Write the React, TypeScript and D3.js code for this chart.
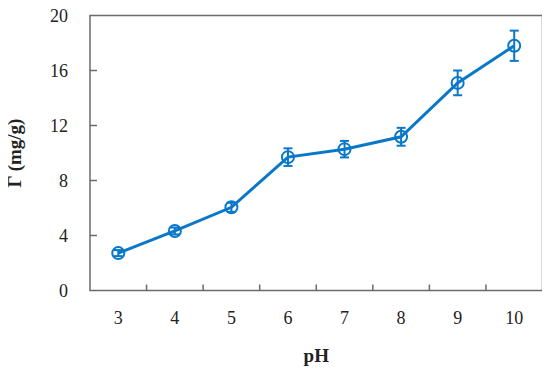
import React, { useEffect, useRef } from 'react';
import * as d3 from 'd3';

// adsorption vs pH
const phLabels = ['3', '4', '5', '6', '7', '8', '9', '10'];
const gammaValues = [2.72, 4.33, 6.05, 9.7, 10.28, 11.18, 15.1, 17.8];
const gammaErrors = [0.22, 0.25, 0.33, 0.64, 0.6, 0.65, 0.9, 1.1];
const yTicks = [0, 4, 8, 12, 16, 20];

const W = 550;
const H = 374;
const margin = { top: 15.5, right: 7.5, bottom: 83.5, left: 90 };
const blue = '#0a78c8';
const axisGrey = '#6b6b6b';
const font = '"Liberation Serif", "DejaVu Serif", serif';

export default function App() {
  const ref = useRef<SVGSVGElement>(null);

  useEffect(() => {
    const svg = d3.select(ref.current);
    svg.selectAll('*').remove();

    const x0 = margin.left;
    const x1 = W - margin.right;
    const y0 = H - margin.bottom;
    const y1 = margin.top;

    const x = d3.scaleBand().domain(phLabels).range([x0, x1]);
    const y = d3.scaleLinear().domain([0, 20]).range([y0, y1]);
    const cx = (i: number) => (x(phLabels[i]) as number) + x.bandwidth() / 2;

    // frame (left, bottom, top, right)
    svg.append('rect')
      .attr('x', x0).attr('y', y1)
      .attr('width', x1 - x0).attr('height', y0 - y1)
      .attr('fill', 'none')
      .attr('stroke', axisGrey)
      .attr('stroke-width', 1.5);

    // y ticks inward
    svg.selectAll('.ytick')
      .data(yTicks.filter((t) => t > 0 && t < 20))
      .enter()
      .append('line')
      .attr('x1', x0).attr('x2', x0 + 7)
      .attr('y1', (d) => y(d)).attr('y2', (d) => y(d))
      .attr('stroke', axisGrey).attr('stroke-width', 1.5);

    svg.selectAll('.ylab')
      .data(yTicks)
      .enter()
      .append('text')
      .attr('x', x0 - 22)
      .attr('y', (d) => y(d))
      .attr('dy', '0.35em')
      .attr('text-anchor', 'end')
      .attr('font-family', font)
      .attr('font-size', 18)
      .attr('fill', '#222')
      .text((d) => d);

    // x ticks at category boundaries, pointing up
    svg.selectAll('.xtick')
      .data(phLabels.slice(1))
      .enter()
      .append('line')
      .attr('x1', (d) => x(d) as number).attr('x2', (d) => x(d) as number)
      .attr('y1', y0).attr('y2', y0 - 6)
      .attr('stroke', axisGrey).attr('stroke-width', 1.5);

    svg.selectAll('.xlab')
      .data(phLabels)
      .enter()
      .append('text')
      .attr('x', (d, i) => cx(i))
      .attr('y', y0 + 33)
      .attr('text-anchor', 'middle')
      .attr('font-family', font)
      .attr('font-size', 18)
      .attr('fill', '#222')
      .text((d) => d);

    // axis titles
    svg.append('text')
      .attr('x', (x0 + x1) / 2)
      .attr('y', 362)
      .attr('text-anchor', 'middle')
      .attr('font-family', font)
      .attr('font-weight', 'bold')
      .attr('font-size', 19)
      .attr('fill', '#222')
      .text('pH');

    svg.append('text')
      .attr('transform', `translate(21,${(y0 + y1) / 2}) rotate(-90)`)
      .attr('text-anchor', 'middle')
      .attr('font-family', font)
      .attr('font-weight', 'bold')
      .attr('font-size', 19)
      .attr('fill', '#222')
      .text('Γ (mg/g)');

    // line
    const line = d3.line<number>()
      .x((d, i) => cx(i))
      .y((d) => y(d));
    svg.append('path')
      .datum(gammaValues)
      .attr('d', line)
      .attr('fill', 'none')
      .attr('stroke', blue)
      .attr('stroke-width', 3);

    // error bars
    const eb = svg.append('g')
      .attr('stroke', blue)
      .attr('stroke-width', 2);
    gammaValues.forEach((v, i) => {
      const e = gammaErrors[i];
      eb.append('line')
        .attr('x1', cx(i)).attr('x2', cx(i))
        .attr('y1', y(v - e)).attr('y2', y(v + e));
      [v - e, v + e].forEach((w) => {
        eb.append('line')
          .attr('x1', cx(i) - 4.5).attr('x2', cx(i) + 4.5)
          .attr('y1', y(w)).attr('y2', y(w));
      });
    });

    // markers
    svg.selectAll('.pt')
      .data(gammaValues)
      .enter()
      .append('circle')
      .attr('cx', (d, i) => cx(i))
      .attr('cy', (d) => y(d))
      .attr('r', 6)
      .attr('fill', 'none')
      .attr('stroke', blue)
      .attr('stroke-width', 2);
  }, []);

  return <svg ref={ref} width={W} height={H} style={{ display: 'block', margin: -8 }} />;
}
